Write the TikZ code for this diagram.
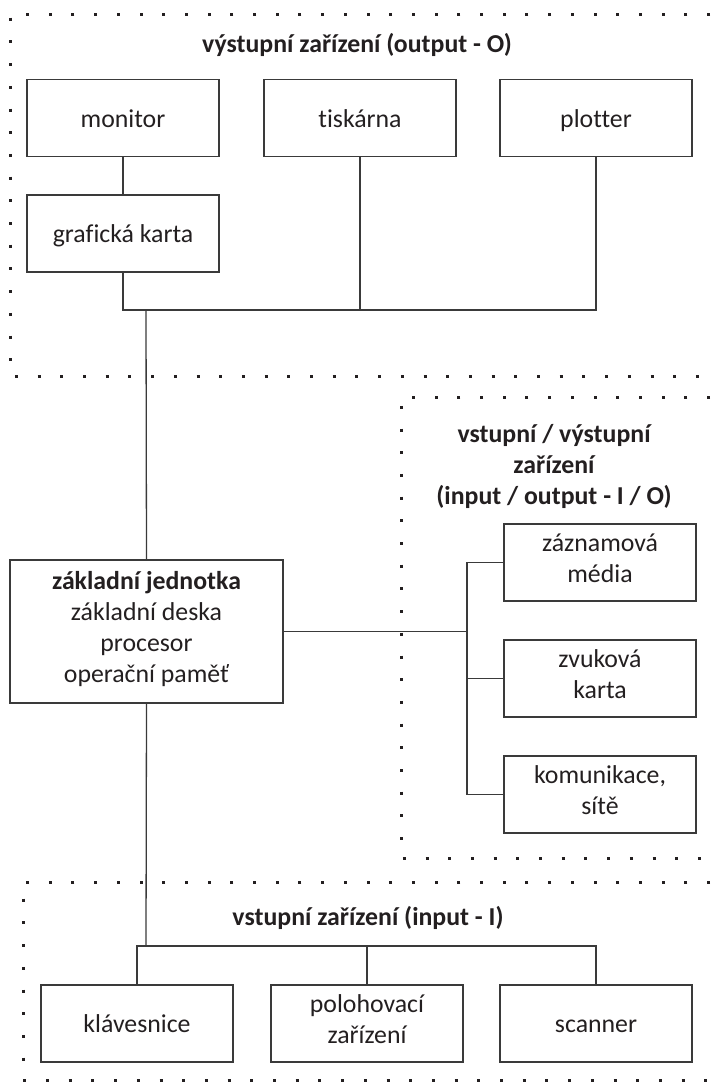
\documentclass[tikz,border=0pt]{standalone}
\usepackage{fontspec}
\setmainfont{Carlito}[Ligatures=NoCommon]
\definecolor{ink}{HTML}{231F20}
\definecolor{wire}{HTML}{3A3A3A}
\begin{document}
\begin{tikzpicture}[x=1pt,y=-1pt,
  txt/.style={text=ink, font=\fontsize{25.8}{31}\selectfont, align=center, inner sep=0pt},
  box/.style={txt, draw=wire, line width=1.3pt, minimum width=192pt, minimum height=77pt,
    execute at begin node={\strut}, execute at end node={\strut}},
  single/.style={text height=18pt, text depth=0pt},
  link/.style={draw=wire, line width=1.3pt},
  frame/.style={draw=ink, line width=3pt, dash pattern=on 3pt off 19.7pt},
  title/.style={txt, font=\fontsize{25.8}{31}\selectfont\bfseries}]
\useasboundingbox (0,0) rectangle (710,1082);

% dotted region outlines
\draw[frame] (710,14) -- (10,14) -- (10,376) -- (710,376);
\draw[frame] (710,397) -- (401,397) -- (401,858) -- (710,858);
\draw[frame] (710,882) -- (23,882) -- (23,1080) -- (710,1080);

% output devices
\node[title] (otitle) at (357,45) {výstupní zařízení (output - O)};
\node[box, single] (monitor) at (123,118) {monitor};
\node[box, single] (tisk) at (360,118) {tiskárna};
\node[box, single] (plotter) at (596,118) {plotter};
\node[box, single] (grafika) at (123,233.5) {grafická karta};

% main unit
\node[box, minimum width=273pt, minimum height=143pt] (zakl) at (146.5,631.5)
  {\textbf{základní jednotka}\\základní deska\\procesor\\operační paměť};

% input / output devices
\node[title] (iotitle) at (554,466) {vstupní / výstupní\\zařízení\\(input / output - I / O)};
\node[box] (zazn) at (600,562.5) {záznamová\\média};
\node[box] (zvuk) at (600,678.5) {zvuková\\karta};
\node[box] (kom) at (600,794.5) {komunikace,\\sítě};

% input devices
\node[title] (ititle) at (368,918) {vstupní zařízení (input - I)};
\node[box, single] (klav) at (137,1023.5) {klávesnice};
\node[box] (polo) at (367,1023.5) {polohovací\\zařízení};
\node[box, single] (scan) at (596,1023.5) {scanner};

% connectors
\coordinate (obus) at (146,310);
\coordinate (iox) at (467,629);
\coordinate (ibus) at (146,946);

\draw[link] (monitor) -- (grafika);
\draw[link] (grafika.south) |- (plotter.south |- obus) -- (plotter.south);
\draw[link] (tisk.south) -- (tisk.south |- obus);
\draw[link] (obus) -- (zakl.north);

\draw[link] (zakl.east) -- (zakl.east -| iox);
\draw[link] (zazn.west) -- (zazn.west -| iox) -- (kom.west -| iox) -- (kom.west);
\draw[link] (zvuk.west) -- (zvuk.west -| iox);

\draw[link] (zakl.south) -- (ibus);
\draw[link] (klav.north) |- (scan.north |- ibus) -- (scan.north);
\draw[link] (polo.north) -- (polo.north |- ibus);
\end{tikzpicture}
\end{document}
